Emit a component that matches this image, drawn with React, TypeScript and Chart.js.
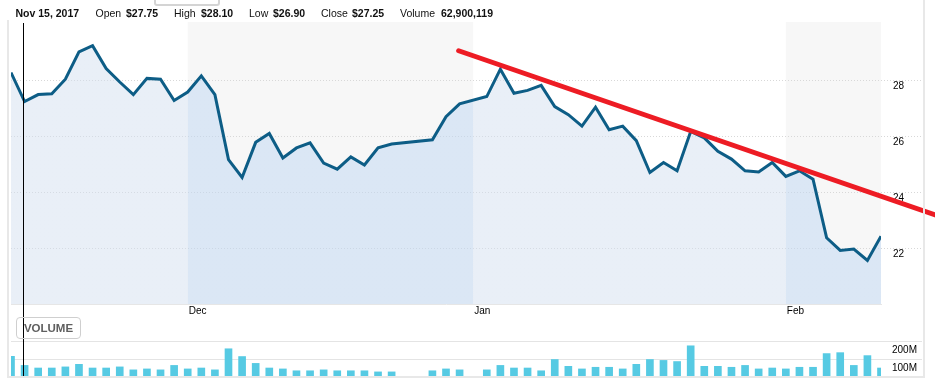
import React, { useEffect, useRef } from "react";
import { Chart, registerables } from "chart.js";

Chart.register(...registerables);
Chart.defaults.font.family = "'Liberation Sans', Arial, sans-serif";

// weekday slots shown on the x axis
const dates = [
  "2017-11-14", "2017-11-15", "2017-11-16", "2017-11-17", "2017-11-20", "2017-11-21", "2017-11-22",
  "2017-11-23", "2017-11-24", "2017-11-27", "2017-11-28", "2017-11-29", "2017-11-30",
  "2017-12-01", "2017-12-04", "2017-12-05", "2017-12-06", "2017-12-07", "2017-12-08", "2017-12-11",
  "2017-12-12", "2017-12-13", "2017-12-14", "2017-12-15", "2017-12-18", "2017-12-19", "2017-12-20",
  "2017-12-21", "2017-12-22", "2017-12-25", "2017-12-26", "2017-12-27", "2017-12-28", "2017-12-29",
  "2018-01-01", "2018-01-02", "2018-01-03", "2018-01-04", "2018-01-05", "2018-01-08", "2018-01-09",
  "2018-01-10", "2018-01-11", "2018-01-12", "2018-01-15", "2018-01-16", "2018-01-17", "2018-01-18",
  "2018-01-19", "2018-01-22", "2018-01-23", "2018-01-24", "2018-01-25", "2018-01-26", "2018-01-29",
  "2018-01-30", "2018-01-31", "2018-02-01", "2018-02-02", "2018-02-05", "2018-02-06", "2018-02-07",
  "2018-02-08", "2018-02-09", "2018-02-12",
];

const closes: (number | null)[] = [
  28.29, 27.25, 27.5, 27.53, 28.05, 29.03, 29.25, 28.43, 27.95, 27.5,
  28.08, 28.05, 27.29, 27.59, 28.17, 27.5, 25.17, 24.53, 25.79, 26.11,
  25.23, 25.59, 25.77, 25.05, 24.83, 25.27, 24.98, 25.59, 25.73, null,
  null, 25.88, 26.71, 27.17, null, 27.43, 28.41, 27.55, 27.65, 27.83,
  27.07, 26.78, 26.37, 27.05, 26.24, 26.37, 25.85, 24.71, 25.07, 24.77,
  26.18, 25.95, 25.47, 25.19, 24.77, 24.73, 25.07, 24.57, 24.77, 24.47,
  22.37, 21.92, 21.97, 21.56, 22.43,
];

// volume in millions
const volumes: (number | null)[] = [
  117, 68, 54, 54, 60, 74, 54, 54, 60, 44,
  49, 44, 68, 49, 54, 44, 158, 116, 79, 54,
  49, 39, 39, 44, 39, 39, 39, 33, 33, null,
  null, 39, 49, 44, null, 44, 68, 54, 54, 39,
  100, 63, 49, 58, 58, 49, 74, 100, 95, 89,
  174, 63, 63, 58, 68, 49, 54, 49, 58, 58,
  132, 137, 68, 121, 54,
];

const monthNames = ["Jan", "Feb", "Mar", "Apr", "May", "Jun", "Jul", "Aug", "Sep", "Oct", "Nov", "Dec"];
const priceTicks = [22, 24, 26, 28];
const volumeTicks = [100, 200];
const trendX = [32.93, 68.0];
const trendY = [29.07, 23.19];
const crosshairDate = "2017-11-15";

const headerItems = [
  { label: "", value: "Nov 15, 2017" },
  { label: "Open", value: "$27.75" },
  { label: "High", value: "$28.10" },
  { label: "Low", value: "$26.90" },
  { label: "Close", value: "$27.25" },
  { label: "Volume", value: "62,900,119" },
];

const monthStarts: number[] = [];
dates.forEach((d, i) => {
  if (i > 0 && d.slice(5, 7) !== dates[i - 1].slice(5, 7)) monthStarts.push(i);
});
const monthLabels = monthStarts.map((i) => monthNames[parseInt(dates[i].slice(5, 7), 10) - 1]);
const lastIndex = dates.length - 1;
const crosshairIndex = dates.indexOf(crosshairDate);

const LIGHT_FILL = "rgba(211,223,239,0.5)";
const DARK_FILL = "rgba(191,215,243,0.5)";

const crosshairPlugin = (fromTop: boolean) => ({
  id: "crosshair",
  afterDraw(chart: any) {
    const { ctx, chartArea, scales } = chart;
    const x = Math.floor(scales.x.getPixelForValue(crosshairIndex)) - 0.5;
    ctx.save();
    ctx.strokeStyle = "#000";
    ctx.lineWidth = 1;
    ctx.beginPath();
    if (fromTop) {
      ctx.moveTo(x, chartArea.top + 1);
      ctx.lineTo(x, chart.height);
    } else {
      ctx.moveTo(x, 0);
      ctx.lineTo(x, chartArea.bottom);
    }
    ctx.stroke();
    ctx.restore();
  },
});

const bandPlugin = {
  id: "bands",
  beforeDraw(chart: any) {
    const { ctx, chartArea, scales } = chart;
    const bounds = [...monthStarts, lastIndex];
    ctx.save();
    ctx.fillStyle = "#f7f7f7";
    for (let k = 0; k < monthStarts.length; k += 2) {
      const x0 = scales.x.getPixelForValue(bounds[k]);
      const x1 = scales.x.getPixelForValue(bounds[k + 1]);
      ctx.fillRect(x0, chartArea.top, x1 - x0, chartArea.bottom - chartArea.top);
    }
    ctx.restore();
  },
};

function fillColor(c: any) {
  const chart = c.chart;
  const area = chart.chartArea;
  if (!area) return LIGHT_FILL;
  const xs = chart.scales.x;
  const g = chart.ctx.createLinearGradient(area.left, 0, area.right, 0);
  const bounds = [0, ...monthStarts, lastIndex];
  const w = area.right - area.left;
  const clamp = (v: number) => Math.min(1, Math.max(0, v));
  for (let s = 0; s < bounds.length - 1; s++) {
    const col = s % 2 ? DARK_FILL : LIGHT_FILL;
    g.addColorStop(clamp((xs.getPixelForValue(bounds[s]) - area.left) / w), col);
    g.addColorStop(clamp((xs.getPixelForValue(bounds[s + 1]) - area.left) / w), col);
  }
  return g;
}

function PriceChart() {
  const ref = useRef<HTMLCanvasElement>(null);
  useEffect(() => {
    const chart = new Chart(ref.current!, {
      type: "line",
      data: {
        datasets: [
          {
            data: trendX.map((x, i) => ({ x, y: trendY[i] })),
            borderColor: "#ed1c24",
            borderWidth: 5,
            borderCapStyle: "round",
            pointRadius: 0,
            fill: false,
            clip: false,
            order: 0,
          } as any,
          {
            data: closes.map((y, i) => ({ x: i, y })),
            borderColor: "#0d5d86",
            borderWidth: 3,
            pointRadius: 0,
            tension: 0,
            spanGaps: true,
            fill: "start",
            backgroundColor: fillColor,
            order: 1,
          } as any,
        ],
      },
      options: {
        responsive: false,
        animation: false,
        events: [],
        layout: { padding: { left: 11, right: 10, top: 22, bottom: 0 } },
        plugins: { legend: { display: false }, tooltip: { enabled: false } },
        scales: {
          x: {
            type: "linear",
            min: 0,
            max: lastIndex,
            offset: false,
            afterBuildTicks: (s: any) => {
              s.ticks = monthStarts.map((v) => ({ value: v }));
            },
            afterFit: (s: any) => {
              s.height = 31;
              s.paddingLeft = 0;
              s.paddingRight = 0;
            },
            grid: { display: false, drawTicks: false },
            border: { display: true, color: "#e6e6e6", width: 1 },
            ticks: {
              autoSkip: false,
              maxRotation: 0,
              align: "start",
              labelOffset: 1,
              padding: 1,
              color: "#000",
              font: { size: 10 },
              callback: (v: any) => {
                const k = monthStarts.indexOf(Number(v));
                return k >= 0 ? monthLabels[k] : "";
              },
            },
          },
          y: {
            type: "linear",
            position: "right",
            min: 20,
            max: 30.1,
            afterBuildTicks: (s: any) => {
              s.ticks = priceTicks.map((v) => ({ value: v }));
            },
            afterFit: (s: any) => {
              s.width = 44;
              s.paddingTop = 0;
              s.paddingBottom = 0;
            },
            grid: {
              color: "#d8d8d8",
              lineWidth: 1,
              drawTicks: true,
              tickLength: 41,
              tickColor: "#d8d8d8",
              tickWidth: 1,
              tickBorderDash: [1, 2],
            },
            border: { display: false, dash: [1, 2] },
            ticks: {
              padding: -29,
              labelOffset: 6,
              color: "#000",
              font: { size: 10 },
              callback: (v: any) => String(v),
            },
          },
        },
      } as any,
      plugins: [bandPlugin, crosshairPlugin(true)],
    });
    return () => chart.destroy();
  }, []);
  return (
    <canvas
      ref={ref}
      width={935}
      height={335}
      style={{ position: "absolute", left: 0, top: 0, width: 935, height: 335 }}
    />
  );
}

function VolumeChart() {
  const ref = useRef<HTMLCanvasElement>(null);
  useEffect(() => {
    const chart = new Chart(ref.current!, {
      type: "bar",
      data: {
        datasets: [
          {
            data: volumes
              .map((y, i) => ({ x: i, y }))
              .filter((p) => p.y !== null),
            backgroundColor: "#56cae3",
            barThickness: 7,
          } as any,
        ],
      },
      options: {
        responsive: false,
        animation: false,
        events: [],
        layout: { padding: { left: 11, right: 10, top: 6, bottom: 0 } },
        plugins: { legend: { display: false }, tooltip: { enabled: false } },
        scales: {
          x: {
            type: "linear",
            min: 0,
            max: lastIndex,
            offset: false,
            display: false,
            grid: { offset: false },
          },
          y: {
            type: "linear",
            position: "right",
            min: 0,
            max: 200,
            afterBuildTicks: (s: any) => {
              s.ticks = volumeTicks.map((v) => ({ value: v }));
            },
            afterFit: (s: any) => {
              s.width = 44;
              s.paddingTop = 0;
              s.paddingBottom = 0;
            },
            grid: {
              color: "#e4e4e4",
              lineWidth: 1,
              drawTicks: true,
              tickLength: 41,
              tickColor: "#e4e4e4",
              tickWidth: 1,
            },
            border: { display: false },
            ticks: {
              padding: -30,
              labelOffset: 9,
              color: "#000",
              font: { size: 10 },
              callback: (v: any) => v + "M",
            },
          },
        },
      } as any,
      plugins: [crosshairPlugin(false)],
    });
    return () => chart.destroy();
  }, []);
  return (
    <canvas
      ref={ref}
      width={935}
      height={43}
      style={{ position: "absolute", left: 0, top: 335, width: 935, height: 43 }}
    />
  );
}

const headerLefts = [
  [0, 15.5],
  [95.5, 126],
  [174, 201],
  [249, 273],
  [321, 352],
  [400, 441],
];

export default function App() {
  const txt: React.CSSProperties = {
    position: "absolute",
    top: 7,
    lineHeight: "13px",
    fontSize: 10.5,
    fontFamily: "'Liberation Sans', Arial, sans-serif",
    color: "#111",
    whiteSpace: "nowrap",
    zIndex: 3,
  };
  return (
    <div
      style={{
        position: "absolute",
        left: 0,
        top: 0,
        width: 935,
        height: 387,
        background: "#fff",
        overflow: "hidden",
      }}
    >
      <PriceChart />
      <VolumeChart />
      {headerItems.map((h, i) => (
        <React.Fragment key={i}>
          {h.label && <span style={{ ...txt, left: headerLefts[i][0] }}>{h.label}</span>}
          <span style={{ ...txt, left: headerLefts[i][1], fontWeight: "bold" }}>{h.value}</span>
        </React.Fragment>
      ))}
      <div
        style={{
          position: "absolute",
          left: 154,
          top: -18,
          width: 62,
          height: 20,
          border: "2px solid #d4d4d4",
          borderRadius: 3,
          boxSizing: "content-box",
        }}
      />
      <div
        style={{
          position: "absolute",
          left: 16,
          top: 317,
          width: 63,
          height: 20,
          border: "1px solid #cfcfcf",
          borderRadius: 4,
          fontFamily: "'Liberation Sans', Arial, sans-serif",
          fontWeight: "bold",
          fontSize: 11.5,
          color: "#5f5f5f",
          lineHeight: "20px",
          textAlign: "center",
          zIndex: 3,
        }}
      >
        VOLUME
      </div>
      <div style={{ position: "absolute", left: 7, top: 20, width: 2, height: 358, background: "#e8e8e8" }} />
      <div style={{ position: "absolute", left: 923, top: 0, width: 2, height: 378, background: "#e8e8e8" }} />
      <div style={{ position: "absolute", left: 7, top: 376, width: 918, height: 2, background: "#e8e8e8" }} />
    </div>
  );
}
